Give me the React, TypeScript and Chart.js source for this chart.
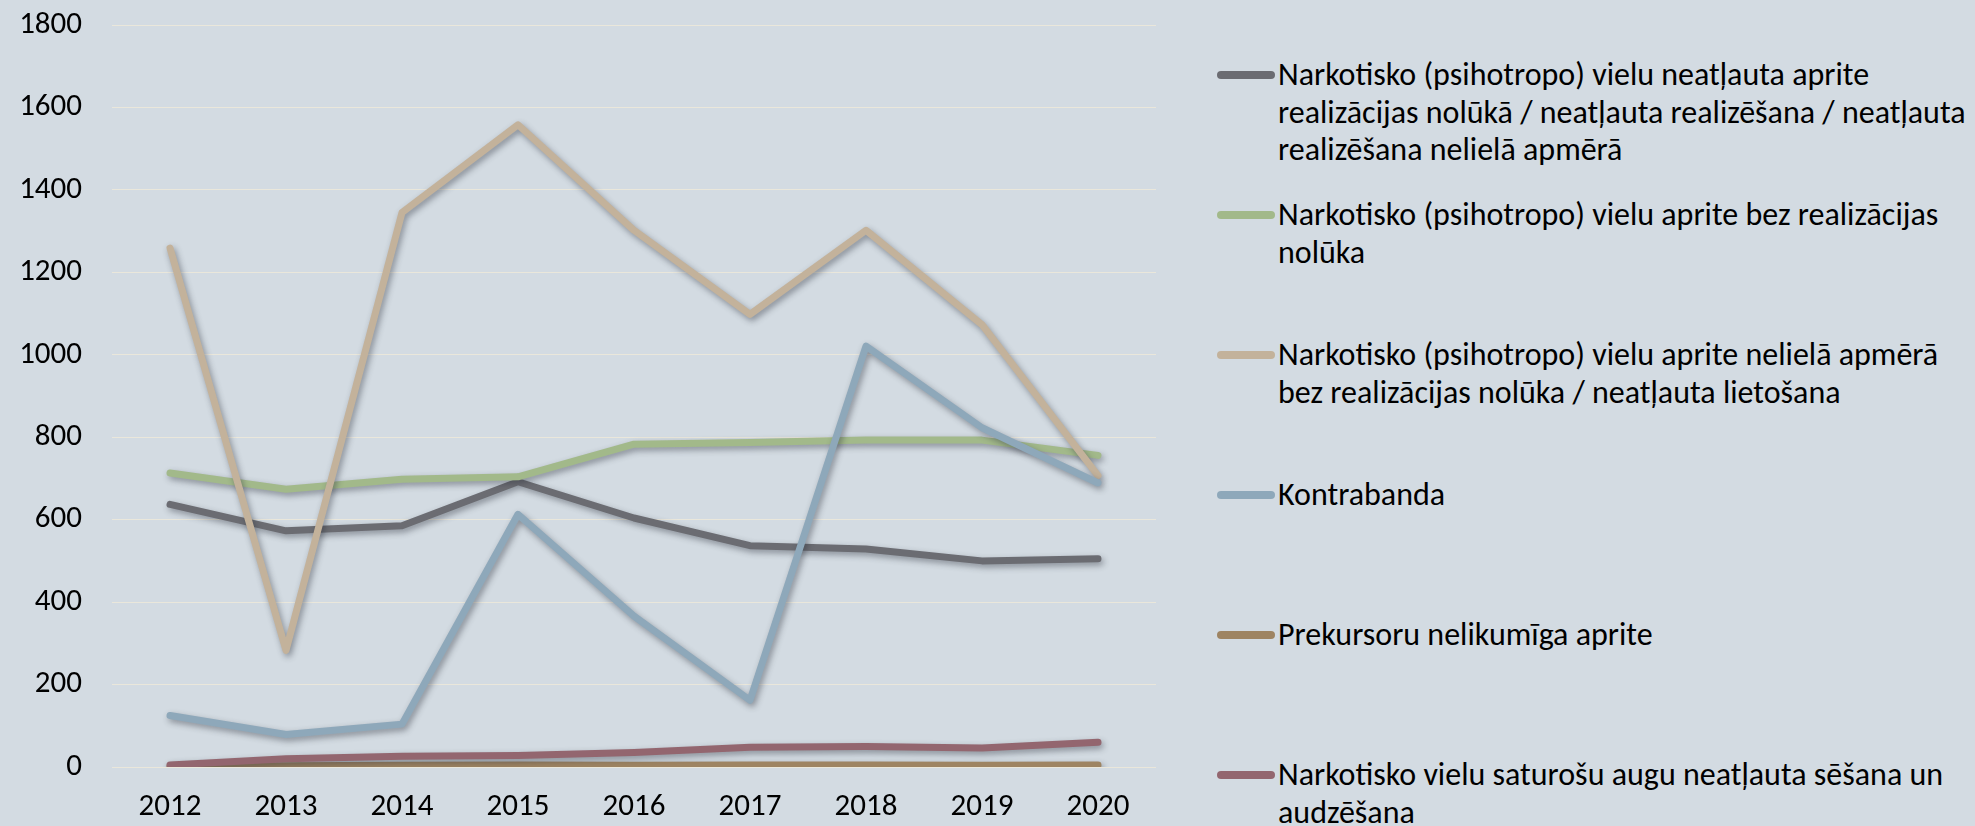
import React, { useEffect, useRef } from "react";
import { Chart, registerables } from "chart.js";

Chart.register(...registerables);

const years = ["2012", "2013", "2014", "2015", "2016", "2017", "2018", "2019", "2020"];

const seriesLabels = [
  "Narkotisko (psihotropo) vielu neatļauta aprite\nrealizācijas nolūkā / neatļauta realizēšana / neatļauta\nrealizēšana nelielā apmērā",
  "Narkotisko (psihotropo) vielu aprite bez realizācijas\nnolūka",
  "Narkotisko (psihotropo) vielu aprite nelielā apmērā\nbez realizācijas nolūka / neatļauta lietošana",
  "Kontrabanda",
  "Prekursoru nelikumīga aprite",
  "Narkotisko vielu saturošu augu neatļauta sēšana un\naudzēšana",
];

const illegalSale = [637, 573, 585, 692, 604, 537, 529, 500, 505];
const possessionNoSale = [713, 674, 698, 704, 783, 787, 793, 793, 756];
const smallAmount = [1259, 283, 1345, 1558, 1302, 1098, 1302, 1073, 707];
const smuggling = [125, 79, 104, 613, 366, 162, 1021, 823, 689];
const precursors = [1, 3, 4, 5, 4, 5, 5, 4, 5];
const cultivation = [5, 20, 26, 28, 35, 48, 50, 46, 60];

const seriesColors = ["#6b6c72", "#a2b98a", "#c3b29b", "#8ea8ba", "#9e8462", "#93666f"];

const yMin = 0;
const yMax = 1800;
const yStep = 200;

const FONT = "Carlito, 'Liberation Sans Narrow', 'Noto Sans', sans-serif";
const BG = "#d3dbe2";

const shadowPlugin = {
  id: "lineShadow",
  beforeDatasetDraw(chart: any) {
    const c = chart.ctx;
    c.save();
    c.shadowColor = "rgba(40,45,55,0.45)";
    c.shadowBlur = 6;
    c.shadowOffsetX = 2;
    c.shadowOffsetY = 3;
  },
  afterDatasetDraw(chart: any) {
    chart.ctx.restore();
  },
};

export default function App() {
  const canvasRef = useRef<HTMLCanvasElement | null>(null);

  useEffect(() => {
    document.body.style.margin = "0";
    document.body.style.background = BG;
    const values = [illegalSale, possessionNoSale, smallAmount, smuggling, precursors, cultivation];
    let alive = true;
    const chart = new Chart(canvasRef.current as HTMLCanvasElement, {
      type: "line",
      data: {
        labels: years,
        datasets: values.map((v, i) => ({
          label: seriesLabels[i].replace(/\n/g, " "),
          data: v,
          borderColor: seriesColors[i],
          backgroundColor: seriesColors[i],
          borderWidth: 7,
          pointRadius: 0,
          pointHoverRadius: 0,
          tension: 0,
          borderCapStyle: "round",
          borderJoinStyle: "round",
          order: 10 - i,
        })),
      },
      options: {
        responsive: false,
        animation: false,
        layout: { autoPadding: false, padding: { top: 25, right: 24, left: 0, bottom: 0 } },
        plugins: { legend: { display: false }, tooltip: { enabled: false } },
        scales: {
          x: {
            offset: true,
            grid: { display: false, drawTicks: false },
            border: { display: false },
            ticks: { color: "#000", font: { family: FONT, size: 31 }, padding: 22, maxRotation: 0 },
            afterFit: (s: any) => {
              s.height = 59;
            },
          },
          y: {
            min: yMin,
            max: yMax,
            ticks: {
              stepSize: yStep,
              color: "#000",
              font: { family: FONT, size: 31 },
              padding: 0,
              callback: (v: any) => String(v),
            },
            grid: {
              color: "rgba(236,232,218,0.9)",
              lineWidth: 1,
              drawTicks: true,
              tickLength: 30,
              tickColor: "rgba(0,0,0,0)",
            },
            border: { display: false },
            afterFit: (s: any) => {
              s.width = 112;
            },
          },
        },
      },
      plugins: [shadowPlugin],
    });
    const fonts: any = (document as any).fonts;
    if (fonts && fonts.load) {
      fonts
        .load("31px Carlito")
        .then(() => {
          if (alive) chart.update();
        })
        .catch(() => {});
    }
    return () => {
      alive = false;
      chart.destroy();
    };
  }, []);

  const legendTop = 75;
  const legendGap = 140;
  const lineH = 37.5;

  return (
    <div style={{ position: "relative", width: 1975, height: 826, background: BG, overflow: "hidden" }}>
      <canvas ref={canvasRef} width={1180} height={826} style={{ position: "absolute", left: 0, top: 0 }} />
      {seriesLabels.map((lab, i) => (
        <div
          key={i}
          style={{
            position: "absolute",
            left: 1217,
            top: legendTop + i * legendGap - lineH / 2,
            display: "flex",
            alignItems: "flex-start",
            fontFamily: FONT,
            fontSize: 32,
            lineHeight: lineH + "px",
            color: "#000",
            whiteSpace: "pre",
          }}
        >
          <div
            style={{
              width: 58,
              height: 8,
              borderRadius: 4,
              background: seriesColors[i],
              marginTop: lineH / 2 - 4,
              marginRight: 3,
              flex: "none",
            }}
          />
          <div>{lab}</div>
        </div>
      ))}
    </div>
  );
}
